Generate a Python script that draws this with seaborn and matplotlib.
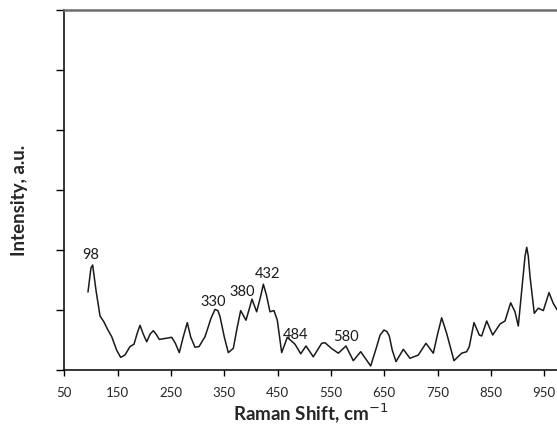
import matplotlib
matplotlib.use("Agg")
import matplotlib.pyplot as plt
import seaborn as sns
import pandas as pd

# Raman shift (cm-1) and intensity (a.u.)
shift = [94.4, 100.0, 103.2, 109.4, 117.0, 124.4, 131.0, 138.9, 148.2, 155.7,
         163.8, 173.2, 180.7, 187.0, 192.0, 198.0, 204.5, 211.0, 216.9, 222.0,
         228.1, 242.0, 251.4, 258.0, 265.6, 273.0, 280.6, 287.0, 295.0, 302.6,
         313.8, 318.0, 325.0, 332.6, 338.0, 342.0, 350.0, 357.5, 366.9, 374.0,
         380.7, 390.7, 402.0, 410.7, 418.0, 423.2, 429.0, 435.7, 443.2, 449.4,
         457.6, 468.2, 482.6, 493.3, 503.2, 516.9, 532.6, 538.8, 551.0, 563.8,
         578.2, 591.9, 605.8, 624.5, 635.8, 642.0, 649.5, 655.0, 659.4, 665.0,
         672.0, 685.7, 698.2, 713.8, 728.2, 741.9, 750.0, 757.6, 767.0, 780.7,
         795.1, 804.5, 809.4, 818.2, 828.2, 832.6, 842.0, 853.3, 867.0, 876.4,
         887.0, 895.1, 901.3, 909.6, 914.0, 917.1, 920.0, 923.3, 931.3, 938.8,
         948.2, 958.9, 966.9, 974.4, 980.0]
intensity = [1.30, 1.70, 1.75, 1.33, 0.90, 0.80, 0.68, 0.555, 0.33, 0.21,
             0.25, 0.39, 0.43, 0.62, 0.745, 0.60, 0.47, 0.60, 0.655, 0.60,
             0.51, 0.53, 0.545, 0.45, 0.29, 0.55, 0.79, 0.55, 0.38, 0.39,
             0.555, 0.667, 0.86, 1.01, 0.99, 0.89, 0.55, 0.29, 0.36, 0.70,
             0.99, 0.83, 1.18, 0.97, 1.22, 1.43, 1.25, 0.97, 0.99, 0.83,
             0.29, 0.545, 0.43, 0.27, 0.40, 0.22, 0.445, 0.455, 0.36, 0.28,
             0.40, 0.155, 0.305, 0.067, 0.39, 0.58, 0.667, 0.64, 0.567, 0.33,
             0.14, 0.345, 0.195, 0.25, 0.445, 0.28, 0.60, 0.87, 0.61, 0.155,
             0.28, 0.305, 0.39, 0.79, 0.583, 0.567, 0.817, 0.583, 0.767, 0.817,
             1.12, 0.97, 0.733, 1.50, 1.90, 2.045, 1.90, 1.555, 0.945, 1.03,
             0.99, 1.29, 1.11, 1.00, 0.95]

# peak labels
peak_labels = ["98", "330", "380", "432", "484", "580"]
label_x = [100.3, 329.4, 382.6, 430.7, 483.9, 578.2]
label_y = [1.92, 1.14, 1.295, 1.595, 0.583, 0.555]

xticks = [50, 150, 250, 350, 450, 550, 650, 750, 850, 950]

sns.set_style("white")
plt.rcParams['font.family'] = ['Lato', 'DejaVu Sans']

fig = plt.figure(figsize=(5.57, 4.25), dpi=100)
ax = fig.add_axes([64.3 / 557, 55 / 425, 1 - 64.3 / 557, 360 / 425])

df = pd.DataFrame({"shift": shift, "intensity": intensity})
sns.lineplot(data=df, x="shift", y="intensity", ax=ax, color="#1a1a1a",
             linewidth=1.1, sort=False)
for line in ax.get_lines():
    line.set_solid_joinstyle('round')

for t, x, y in zip(peak_labels, label_x, label_y):
    ax.text(x, y, t, ha="center", va="center", fontsize=10.5, color="#1a1a1a")

ax.set_xlim(50, 50 + (557 - 64.3) / 0.5333)
ax.set_ylim(0, 6)
ax.set_xticks(xticks)
ax.set_xticklabels([str(v) for v in xticks])
ax.set_yticks(range(7))
ax.set_yticklabels([])

ax.spines['right'].set_visible(False)
ax.spines['top'].set_color('#6e6e6e')
ax.spines['top'].set_linewidth(1.8)
ax.spines['left'].set_color('black')
ax.spines['bottom'].set_color('black')
ax.spines['left'].set_linewidth(1.1)
ax.spines['bottom'].set_linewidth(1.1)

ax.tick_params(axis='x', direction='out', length=4, width=1, color='black',
               pad=8, labelsize=9.5, bottom=True)
ax.tick_params(axis='y', direction='out', length=5.5, width=1, color='black',
               left=True)

ax.set_xlabel("Raman Shift, cm$^{-1}$", fontsize=13.5, fontweight='bold',
              labelpad=2)
ax.set_ylabel("Intensity, a.u.", fontsize=13.5, fontweight='bold', labelpad=0)
ax.yaxis.set_label_coords(-(64.3 - 28) / (557 - 64.3), 0.47)

fig.savefig("out.png", dpi=100)
